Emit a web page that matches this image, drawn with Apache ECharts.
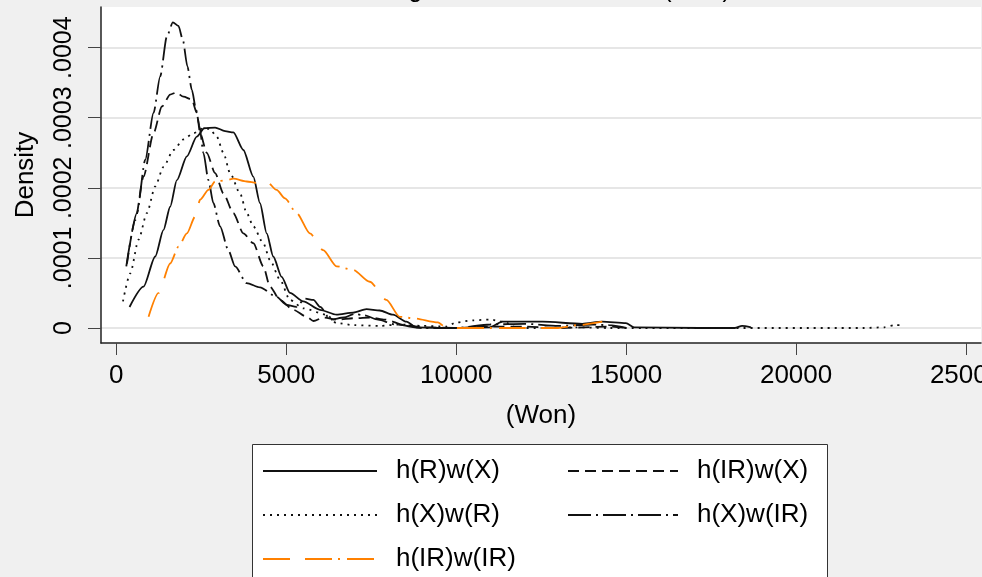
<!DOCTYPE html>
<html>
<head>
<meta charset="utf-8">
<script src="https://cdn.jsdelivr.net/npm/echarts@6/dist/echarts.min.js"></script>
<style>
  html, body { margin: 0; padding: 0; background: #f0f0f0; }
  #chart { width: 982px; height: 577px; }
</style>
</head>
<body>
<div id="chart"></div>
<script>
// ---- data (x = Won, y = density) ----
const seriesNames = ['h(R)w(X)', 'h(IR)w(X)', 'h(X)w(R)', 'h(X)w(IR)', 'h(IR)w(IR)'];

const hRwX = [[390,0.30e-4],[801,0.59e-4],[1145,1.02e-4],[1389,1.40e-4],[1585,1.73e-4],[1782,2.11e-4],[2076,2.45e-4],[2369,2.73e-4],[2584,2.85e-4],[2907,2.86e-4],[3200,2.81e-4],[3444,2.79e-4],[3738,2.54e-4],[4031,2.16e-4],[4228,1.78e-4],[4425,1.35e-4],[4618,1.02e-4],[4865,0.73e-4],[5109,0.50e-4],[5500,0.38e-4],[5990,0.26e-4],[6480,0.19e-4],[6967,0.22e-4],[7361,0.27e-4],[7751,0.25e-4],[8142,0.19e-4],[8535,0.09e-4],[8829,0.01e-4],[9800,0],[10980,0.01e-4],[11362,0.09e-4],[12537,0.09e-4],[13711,0.06e-4],[14298,0.09e-4],[14994,0.07e-4],[15238,0.01e-4],[17146,0],[18200,0],[18409,0.03e-4],[18673,0.01e-4]];

const hIRwX = [[314,0.92e-4],[558,1.54e-4],[801,2.16e-4],[1096,2.78e-4],[1341,3.16e-4],[1585,3.33e-4],[1762,3.36e-4],[1976,3.30e-4],[2222,3.26e-4],[2369,3.07e-4],[2466,2.78e-4],[2662,2.50e-4],[2907,2.21e-4],[3151,1.92e-4],[3444,1.64e-4],[3738,1.35e-4],[4031,1.21e-4],[4325,0.88e-4],[4521,0.59e-4],[4815,0.40e-4],[5206,0.26e-4],[5600,0.16e-4],[5800,0.10e-4],[6100,0.15e-4],[6500,0.12e-4],[7000,0.14e-4],[7500,0.15e-4],[7900,0.12e-4],[8500,0.04e-4],[9000,0.01e-4],[10000,0],[11000,0.02e-4],[12000,0.02e-4],[13000,0],[14500,0.02e-4],[15000,0]];

const hXwR = [[196,0.38e-4],[411,0.78e-4],[655,1.26e-4],[900,1.64e-4],[1145,2.02e-4],[1389,2.30e-4],[1682,2.54e-4],[1976,2.69e-4],[2270,2.78e-4],[2563,2.85e-4],[2750,2.84e-4],[2956,2.73e-4],[3151,2.50e-4],[3347,2.21e-4],[3641,1.92e-4],[3837,1.64e-4],[4031,1.45e-4],[4325,1.21e-4],[4521,0.97e-4],[4815,0.69e-4],[5109,0.40e-4],[5500,0.28e-4],[6186,0.19e-4],[6480,0.07e-4],[7000,0.04e-4],[7751,0.03e-4],[8338,0.05e-4],[9000,0.03e-4],[9700,0.02e-4],[10000,0.08e-4],[10500,0.11e-4],[11000,0.12e-4],[11400,0.09e-4],[11800,0],[12500,0],[13500,0.01e-4],[14500,0],[15500,0],[22000,0],[22600,0.01e-4],[22900,0.04e-4],[23100,0.04e-4]];

const hXwIR = [[294,0.88e-4],[607,1.64e-4],[851,2.40e-4],[1096,3.07e-4],[1292,3.59e-4],[1488,4.16e-4],[1665,4.36e-4],[1829,4.31e-4],[1958,4.11e-4],[2093,3.73e-4],[2222,3.40e-4],[2349,3.11e-4],[2447,2.88e-4],[2563,2.50e-4],[2710,2.11e-4],[2857,1.78e-4],[3053,1.45e-4],[3297,1.11e-4],[3494,0.88e-4],[3837,0.64e-4],[4228,0.58e-4],[4700,0.45e-4],[5012,0.33e-4],[5300,0.30e-4],[5550,0.42e-4],[5800,0.40e-4],[6000,0.30e-4],[6300,0.12e-4],[6700,0.15e-4],[7000,0.20e-4],[7300,0.18e-4],[7700,0.12e-4],[8200,0.05e-4],[9000,0],[10000,0],[11000,0.05e-4],[12000,0.06e-4],[13000,0.03e-4],[14000,0.05e-4],[14500,0.04e-4],[15000,0]];

const hIRwIR = [[949,0.16e-4],[1243,0.50e-4],[1585,0.92e-4],[1830,1.16e-4],[2076,1.35e-4],[2320,1.59e-4],[2466,1.83e-4],[2711,1.97e-4],[2907,2.09e-4],[3250,2.11e-4],[3444,2.13e-4],[3837,2.09e-4],[4131,2.07e-4],[4425,2.09e-4],[4718,1.97e-4],[4962,1.85e-4],[5305,1.64e-4],[5696,1.35e-4],[6087,1.11e-4],[6480,0.88e-4],[6967,0.83e-4],[7457,0.66e-4],[7947,0.40e-4],[8338,0.16e-4],[8729,0.14e-4],[9463,0.08e-4],[9710,0],[10500,0],[12000,0],[13000,0],[13564,0.04e-4],[14298,0.09e-4]];

const xTicks = [0, 5000, 10000, 15000, 20000, 25000];
const yTicks = [0, 0.0001, 0.0002, 0.0003, 0.0004];
const yTickLabels = ['0', '.0001', '.0002', '.0003', '.0004'];

const titleText = 'Wage of Women Workers (Won)';
const xName = '(Won)';
const yName = 'Density';

// ---- chart ----
const FONT = '"Liberation Sans", Arial, sans-serif';
const chart = echarts.init(document.getElementById('chart'), null, { renderer: 'canvas' });

function mkSeries(name, data, color, type, width) {
  return {
    name: name, type: 'line', data: data, showSymbol: false, symbol: 'none',
    smooth: 0.25, smoothMonotone: 'x', z: 3,
    lineStyle: { color: color, width: width, type: type, cap: 'butt' },
    itemStyle: { color: color },
    emphasis: { disabled: true }
  };
}

const legendCommon = {
  orient: 'vertical', top: 458, padding: 0,
  itemHeight: 14, itemGap: 18, z: 5, selectedMode: false,
  itemStyle: { opacity: 0, borderWidth: 0 },
  textStyle: { fontFamily: FONT, fontSize: 26, color: '#000', padding: [0, 0, 0, 14] }
};

const option = {
  backgroundColor: '#f0f0f0',
  animation: false,
  title: {
    text: titleText, left: 372, top: -22, padding: 0,
    textStyle: { fontFamily: FONT, fontSize: 25, fontWeight: 'normal', color: '#000' }
  },
  grid: { left: 101, right: 1, top: 7, bottom: 234, show: true, backgroundColor: '#ffffff', borderWidth: 0, outerBoundsMode: 'none', containLabel: false },
  xAxis: {
    type: 'value', min: -450, max: 25440,
    name: xName, nameLocation: 'middle', nameGap: 60,
    nameTextStyle: { fontFamily: FONT, fontSize: 26, color: '#000' },
    axisLine: { show: true, onZero: false, lineStyle: { color: '#222', width: 1.5 } },
    axisTick: { show: true, length: 12, customValues: xTicks, lineStyle: { color: '#444', width: 1 } },
    axisLabel: { customValues: xTicks, margin: 20, fontFamily: FONT, fontSize: 26, color: '#000', showMinLabel: true, showMaxLabel: true, hideOverlap: false,
      formatter: function (v) { return String(Math.round(v)); } },
    splitLine: { show: false }
  },
  yAxis: {
    type: 'value', min: -0.0000214, max: 0.000458,
    name: yName, nameLocation: 'middle', nameGap: 62, nameRotate: 90,
    nameTextStyle: { fontFamily: FONT, fontSize: 26, color: '#000' },
    axisLine: { show: true, onZero: false, lineStyle: { color: '#222', width: 1.5 } },
    axisTick: { show: true, length: 13, customValues: yTicks, lineStyle: { color: '#444', width: 1 } },
    axisLabel: {
      customValues: yTicks, rotate: 90, margin: 24, fontFamily: FONT, fontSize: 25, color: '#000',
      formatter: function (v) { const i = yTicks.findIndex(t => Math.abs(t - v) < 1e-9); return i >= 0 ? yTickLabels[i] : ''; }
    },
    splitLine: { show: true, lineStyle: { color: '#e6e6e6', width: 2 } }
  },
  graphic: [{
    type: 'rect', z: 1, silent: true,
    shape: { x: 252.5, y: 444.5, width: 575, height: 200 },
    style: { fill: '#ffffff', stroke: '#333', lineWidth: 1 }
  }],
  legend: [
    Object.assign({}, legendCommon, { data: ['h(R)w(X)', 'h(X)w(R)', 'h(IR)w(IR)'], left: 262, itemWidth: 114 }),
    Object.assign({}, legendCommon, { data: ['h(IR)w(X)', 'h(X)w(IR)'], left: 567, itemWidth: 110 })
  ],
  series: [
    mkSeries(seriesNames[0], hRwX, '#111', 'solid', 1.8),
    mkSeries(seriesNames[1], hIRwX, '#111', [11, 6], 1.8),
    mkSeries(seriesNames[2], hXwR, '#111', [2, 5], 1.8),
    mkSeries(seriesNames[3], hXwIR, '#111', [23, 5, 2, 5], 1.8),
    mkSeries(seriesNames[4], hIRwIR, '#ff8000', [27, 15, 27, 6, 2, 7], 1.8)
  ]
};
chart.setOption(option);
</script>
</body>
</html>
